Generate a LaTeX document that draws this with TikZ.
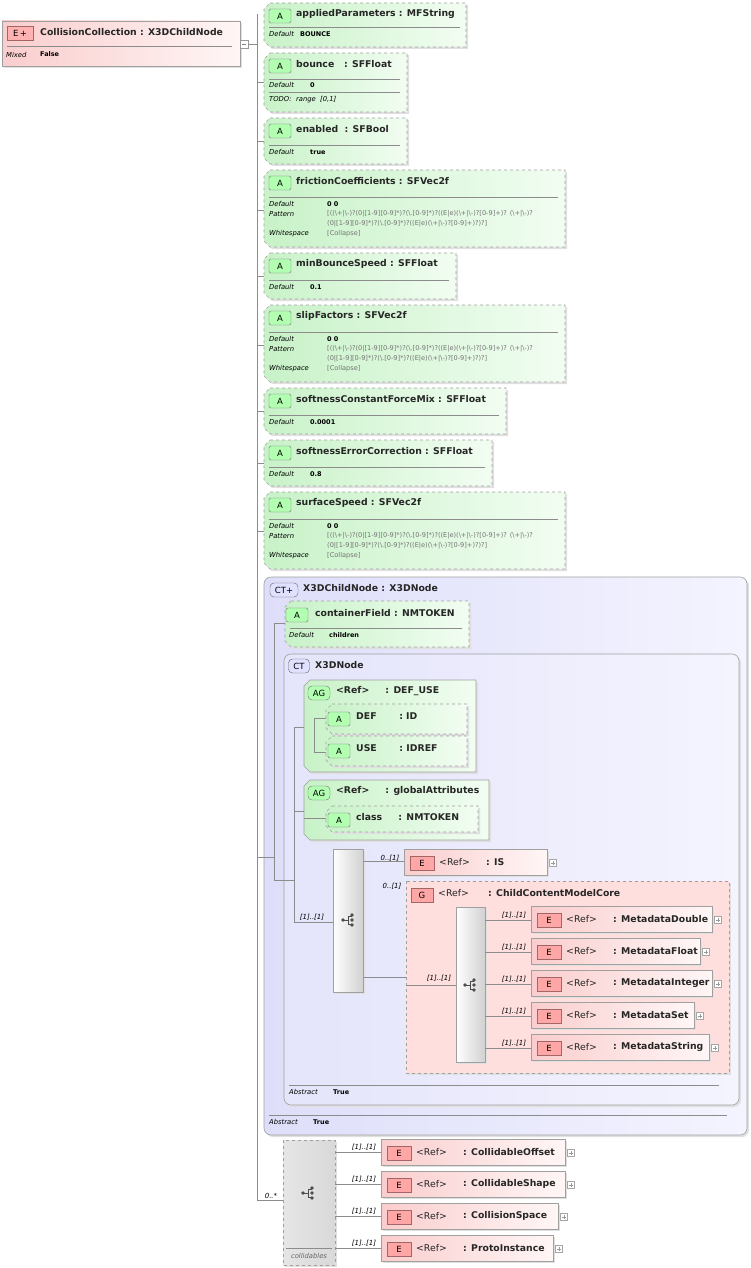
\documentclass[tikz,border=0pt]{standalone}
\usepackage{fontspec}
\setmainfont{DejaVu Sans}
\begin{document}
\definecolor{attrL}{RGB}{200,242,200}
\definecolor{attrR}{RGB}{242,253,242}
\definecolor{elemL}{RGB}{250,205,205}
\definecolor{elemR}{RGB}{255,246,246}
\definecolor{ctL}{RGB}{222,222,250}
\definecolor{ctR}{RGB}{244,244,255}
\definecolor{bord}{RGB}{160,160,160}
\def\bs{\textbackslash}
\def\patA{[((\bs+|\bs-)?(0|[1-9][0-9]*)?(\bs.[0-9]*)?((E|e)(\bs+|\bs-)?[0-9]+)? (\bs+|\bs-)?}
\def\patB{(0|[1-9][0-9]*)?(\bs.[0-9]*)?((E|e)(\bs+|\bs-)?[0-9]+)?)?]}
\begin{tikzpicture}[x=1pt,y=-1pt,
  ttl/.style={anchor=west,inner sep=0,font=\fontsize{9.3}{10}\selectfont\bfseries,text=black!85},
  ref/.style={anchor=west,inner sep=0,font=\fontsize{9.3}{10}\selectfont,text=black!85},
  key/.style={anchor=west,inner sep=0,font=\fontsize{6.8}{8}\selectfont\itshape},
  val/.style={anchor=west,inner sep=0,font=\fontsize{6.5}{8}\selectfont\bfseries},
  pat/.style={anchor=west,inner sep=0,font=\fontsize{6.6}{8}\selectfont,text=black!55},
  mult/.style={anchor=south,inner sep=0,font=\fontsize{7}{8}\selectfont\itshape},
  badge/.style={draw=black!55,rounded corners=1.5,minimum height=14,inner sep=1.5,font=\fontsize{8.5}{9}\selectfont},
  conn/.style={draw=black!45,line width=0.6},
  ]
\useasboundingbox (0,0) rectangle (751,1268);
\newcommand\chamf[5][]{\path[#1] ({#2+6},#3) -- (#4,#3) -- (#4,#5) -- ({#2+6},#5) -- (#2,{#5-6}) -- (#2,{#3+6}) -- cycle;}
\newcommand\attr[4]{% x1 y1 x2 y2
  \chamf[fill=black!12,shift={(2,2)}]{#1}{#2}{#3}{#4}
  \chamf[left color=attrL,right color=attrR,draw=bord,dashed,line width=0.6]{#1}{#2}{#3}{#4}}
\newcommand\abadge[2]{\node[badge,fill=green!30!white,minimum width=22] at ({#1-1},{#2+1}) {A};}
\newcommand\plusbox[2]{\pgfmathsetmacro\px{#1}\pgfmathsetmacro\py{#2}%
  \draw[black!35,fill=white] ({\px-3.5},{\py-3.5}) rectangle ({\px+3.5},{\py+3.5}); \draw[black!40] ({\px-2},\py)--({\px+2},\py) (\px,{\py-2})--(\px,{\py+2});}
\newcommand\elem[6]{% x1 y1 x2 y2 name nodename
  \pgfmathsetmacro\cy{(#2+#4)/2}%
  \fill[black!12] ({#1+2},{#2+2}) rectangle ({#3+2},{#4+2});
  \path[left color=elemL,right color=elemR,draw=bord,line width=0.6] (#1,#2) rectangle (#3,#4);
  \node[badge,fill=red!35!white,draw=red!40!black!60,minimum width=24,rounded corners=0] (#6) at ({#1+18},{\cy+1}) {E};
  \node[ref] at ({#1+35},\cy) {<Ref>};
  \node[ttl] at ({#1+82},\cy) {: #5};
  \plusbox{#3+6}{\cy+1}}
\newcommand\seqicon[2]{%
  \draw[black!70,line width=0.7] ({#1-6},#2)--({#1-1},#2) ({#1-1},{#2+4})--({#1-1},{#2-4}) ({#1-1},{#2-4})--({#1+3},{#2-4}) ({#1-1},{#2+4})--({#1+3},{#2+4});
  \fill[black!70] ({#1-6},#2) circle (1.8) ({#1+3},{#2-5}) circle (1.8) ({#1+3},#2) circle (1.8) ({#1+3},{#2+5}) circle (1.8);}

% ---------- main element
\fill[black!12] (4,23) rectangle (242,68);
\path[left color=elemL,right color=elemR,draw=bord,line width=0.6] (2,21) rectangle (240,66);
\node[badge,fill=red!30!white,draw=red!40!black!60,minimum width=26,rounded corners=0] (mainb) at (20,33) {E\,+};
\node[ttl] (main) at (40,32) {CollisionCollection : X3DChildNode};
\draw[black!45] (7,46)--(232,46);
\node[key] at (6,55) {Mixed};
\node[val] at (40,54) {False};
\draw[black!40,fill=white] (240,40) rectangle (248,48); \draw[black!50] (242,44)--(246,44);
\draw[conn] (248,44)--(257,44) (257,14)--(257,1200);

% ---------- attributes
\attr{264}{3}{466}{47}\abadge{281}{15}\node[ttl] at (296,14) {appliedParameters : MFString};
\draw[black!45] (269,27)--(460,27); \node[key] at (269,34) {Default}; \node[val] at (300,34) {BOUNCE};

\attr{264}{53}{407}{112}\abadge{281}{65}\node[ttl] at (296,64) {bounce\ \ \ : SFFloat};
\draw[black!45] (269,79)--(400,79); \node[key] at (269,85) {Default}; \node[val] at (310,85) {0};
\draw[black!45] (269,92)--(400,92); \node[key] at (269,100) {TODO:\ \ range\ \ [0,1]};

\attr{264}{118}{407}{164}\abadge{281}{130}\node[ttl] at (296,129) {enabled\ \ : SFBool};
\draw[black!45] (269,145)--(400,145); \node[key] at (269,152) {Default}; \node[val] at (310,152) {true};

\attr{264}{170}{565}{247}\abadge{281}{182}\node[ttl] at (296,181) {frictionCoefficients : SFVec2f};
\draw[black!45] (269,197)--(558,197); \node[key] at (269,204) {Default}; \node[val] at (327,204) {0 0};
\node[key] at (269,214) {Pattern}; \node[pat] at (327,214) {\patA}; \node[pat] at (327,224) {\patB};
\node[key] at (269,234) {Whitespace}; \node[pat] at (327,234) {[Collapse]};

\attr{264}{253}{456}{299}\abadge{281}{265}\node[ttl] at (296,264) {minBounceSpeed : SFFloat};
\draw[black!45] (269,280)--(449,280); \node[key] at (269,287) {Default}; \node[val] at (310,287) {0.1};

\attr{264}{305}{565}{382}\abadge{281}{317}\node[ttl] at (296,316) {slipFactors : SFVec2f};
\draw[black!45] (269,332)--(558,332); \node[key] at (269,339) {Default}; \node[val] at (327,339) {0 0};
\node[key] at (269,349) {Pattern}; \node[pat] at (327,349) {\patA}; \node[pat] at (327,359) {\patB};
\node[key] at (269,369) {Whitespace}; \node[pat] at (327,369) {[Collapse]};

\attr{264}{388}{506}{434}\abadge{281}{400}\node[ttl] at (296,399) {softnessConstantForceMix : SFFloat};
\draw[black!45] (269,415)--(499,415); \node[key] at (269,422) {Default}; \node[val] at (310,422) {0.0001};

\attr{264}{440}{492}{486}\abadge{281}{452}\node[ttl] at (296,451) {softnessErrorCorrection : SFFloat};
\draw[black!45] (269,467)--(485,467); \node[key] at (269,474) {Default}; \node[val] at (310,474) {0.8};

\attr{264}{492}{565}{569}\abadge{281}{504}\node[ttl] at (296,503) {surfaceSpeed : SFVec2f};
\draw[black!45] (269,519)--(558,519); \node[key] at (269,526) {Default}; \node[val] at (327,526) {0 0};
\node[key] at (269,536) {Pattern}; \node[pat] at (327,536) {\patA}; \node[pat] at (327,546) {\patB};
\node[key] at (269,556) {Whitespace}; \node[pat] at (327,556) {[Collapse]};

\draw[conn] (257,82)--(264,82) (257,141)--(264,141) (257,210)--(264,210) (257,276)--(264,276)
 (257,345)--(264,345) (257,411)--(264,411) (257,463)--(264,463) (257,531)--(264,531);

% ---------- CT X3DChildNode
\fill[black!12,rounded corners=7] (266,579) rectangle (749,1137);
\path[left color=ctL,right color=ctR,draw=bord,rounded corners=7,line width=0.6] (264,577) rectangle (747,1135);
\node[badge,fill=blue!12!white,draw=black!60,rounded corners=4,minimum width=28] (ct1) at (284,590) {CT+};
\node[ttl] at (303,588) {X3DChildNode : X3DNode};
\draw[black!45] (269,1115)--(727,1115); \node[key] at (269,1122) {Abstract}; \node[val] at (313,1122) {True};

\attr{285}{601}{469}{647}\abadge{298}{614}\node[ttl] at (315,613) {containerField : NMTOKEN};
\draw[black!45] (290,628)--(462,628); \node[key] at (289,635) {Default}; \node[val] at (329,635) {children};

% CT X3DNode
\fill[black!12,rounded corners=7] (286,656) rectangle (741,1107);
\path[left color=ctL!80!white,right color=ctR,draw=bord,rounded corners=7,line width=0.6] (284,654) rectangle (739,1105);
\node[badge,fill=blue!12!white,draw=black!60,rounded corners=4,minimum width=21] (ct2) at (299,666) {CT};
\node[ttl] at (315,665) {X3DNode};
\draw[black!45] (289,1085)--(719,1085); \node[key] at (289,1092) {Abstract}; \node[val] at (333,1092) {True};

% AG DEF_USE
\chamf[fill=black!12,shift={(2,2)}]{304}{680}{476}{772}
\chamf[left color=attrL,right color=attrR,draw=bord,line width=0.6]{304}{680}{476}{772}
\node[badge,fill=green!30!white,minimum width=22,rounded corners=4] (ag1) at (319,693) {AG};
\node[ttl] at (336,691) {<Ref>\ \ \ \ \ : DEF\_USE};
\attr{326}{704}{467}{734}\abadge{340}{718}\node[ttl] at (356,716) {DEF\ \ \ \ \ \ \ : ID};
\attr{326}{736}{467}{766}\abadge{340}{750}\node[ttl] at (356,748) {USE\ \ \ \ \ \ \ : IDREF};
\draw[conn] (314,718)--(326,718) (314,718)--(314,752)--(326,752);

% AG globalAttributes
\chamf[fill=black!12,shift={(2,2)}]{304}{780}{489}{840}
\chamf[left color=attrL,right color=attrR,draw=bord,line width=0.6]{304}{780}{489}{840}
\node[badge,fill=green!30!white,minimum width=22,rounded corners=4] (ag2) at (319,793) {AG};
\node[ttl] at (336,791) {<Ref>\ \ \ \ \ : globalAttributes};
\attr{326}{806}{478}{832}\abadge{340}{819}\node[ttl] at (356,817) {class\ \ \ \ \ : NMTOKEN};

% sequence
\fill[black!12] (335,851) rectangle (365,994);
\path[left color=white,right color=black!18,draw=bord,line width=0.6] (333,849) rectangle (363,992);
\seqicon{349}{920}

\elem{404}{849}{547}{875}{IS}{eis}
\node[mult] at (390,862) {0..[1]};
\draw[conn] (363,861)--(404,861);

% G ChildContentModelCore
\fill[black!12] (408,883) rectangle (731,1075);
\path[fill={rgb,255:red,255;green,222;blue,222},draw=bord,dashed,line width=0.6] (406,881) rectangle (729,1073);
\node[badge,fill=red!35!white,draw=red!40!black!60,rounded corners=0,minimum width=22] (g1) at (422,895) {G};
\node[ref] at (438,893) {<Ref>};
\node[ttl] at (488,893) {: ChildContentModelCore};
\node[mult] at (392,890) {0..[1]};
\draw[conn] (363,977)--(406,977) (406,985)--(456,985);
\node[mult] at (439,982) {[1]..[1]};
\fill[black!12] (458,909) rectangle (487,1064);
\path[left color=white,right color=black!18,draw=bord,line width=0.6] (456,907) rectangle (485,1062);
\seqicon{471}{985}

\elem{531}{906}{712}{932}{MetadataDouble}{md}
\elem{531}{938}{700}{964}{MetadataFloat}{mf}
\elem{531}{970}{712}{996}{MetadataInteger}{mi}
\elem{531}{1002}{694}{1028}{MetadataSet}{ms}
\elem{531}{1034}{709}{1060}{MetadataString}{mstr}
\foreach \y in {920,952,984,1016,1048}{
  \draw[conn] (485,\y)--(531,\y);
  \node[mult] at (514,{\y-1}) {[1]..[1]};}

% left connectors inside CT
\draw[conn] (257,857)--(274,857) (274,623)--(285,623) (274,623)--(274,880)--(294,880)
  (294,727)--(304,727) (294,811)--(304,811) (294,727)--(294,922)--(333,922)
  (304,818)--(326,818);
\node[mult] at (312,921) {[1]..[1]};

% ---------- collidables
\fill[black!12] (285,1142) rectangle (337,1267);
\path[left color=black!10,right color=black!15,draw=bord,dashed,line width=0.6] (283,1140) rectangle (335,1265);
\seqicon{309}{1193}
\draw[black!45] (286,1248)--(332,1248);
\node[key,anchor=center,text=black!60] at (309,1256) {collidables};
\node[mult] at (271,1199) {0..*};
\draw[conn] (257,1200)--(283,1200);

\elem{381}{1139}{565}{1165}{CollidableOffset}{co}
\elem{381}{1171}{565}{1197}{CollidableShape}{cs}
\elem{381}{1203}{558}{1229}{CollisionSpace}{csp}
\elem{381}{1235}{553}{1261}{ProtoInstance}{pi}
\foreach \y in {1152,1184,1216,1248}{
  \draw[conn] (335,\y)--(381,\y);
  \node[mult] at (364,{\y-1}) {[1]..[1]};}
\end{tikzpicture}
\end{document}
